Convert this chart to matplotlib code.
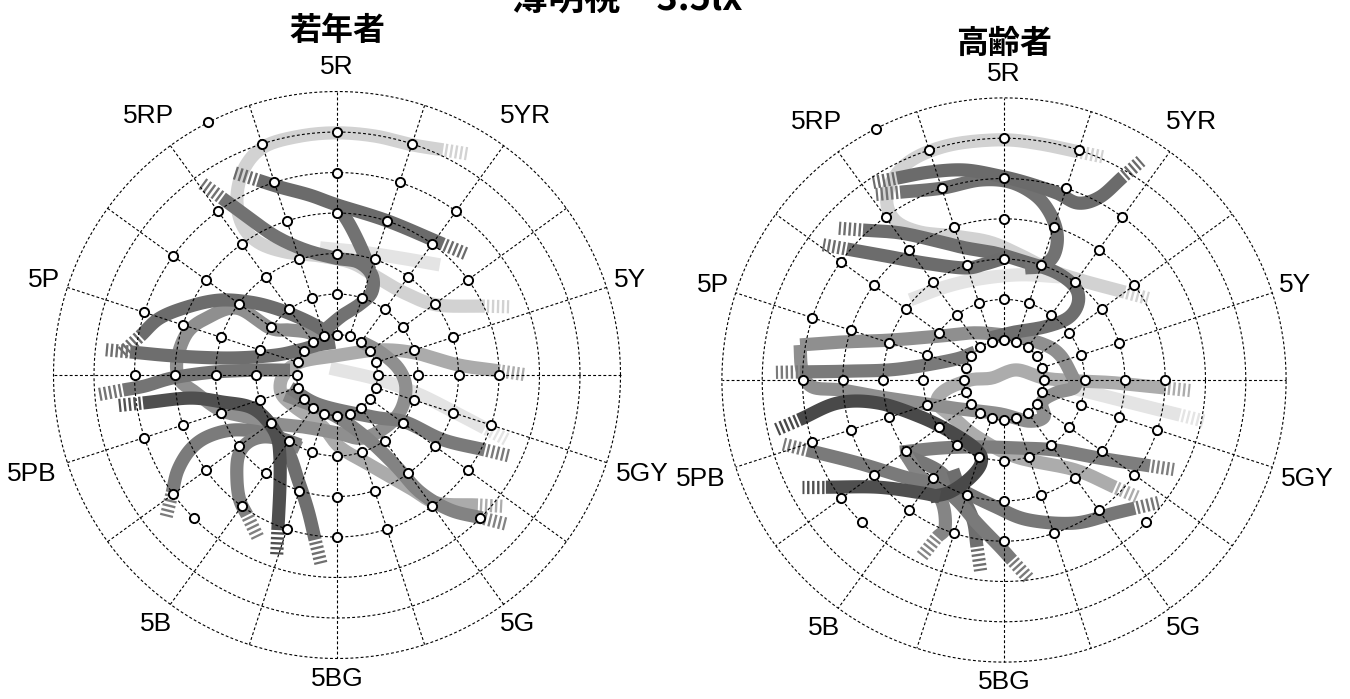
import numpy as np
import matplotlib
matplotlib.use("Agg")
import matplotlib.pyplot as plt

# ---------------------------------------------------------------
# Munsell hue / chroma plane: 20 hue steps (clockwise from 5R at top),
# chroma rings 1..7.  Band coordinates are in chroma units (x, y).
# ---------------------------------------------------------------
HUE_STEPS = 20
RINGS = 7
HUE_LABELS = ["5R", "5YR", "5Y", "5GY", "5G", "5BG", "5B", "5PB", "5P", "5RP"]
# highest chroma ring carrying a sample chip, per hue step (5R, 10R, 5YR, ...)
CHIP_MAX_RING = [6, 6, 5, 4, 3, 4, 4, 4, 4, 4, 4, 4, 4, 5, 5, 5, 5, 5, 5, 6]
# additional chips: (hue step, ring)
EXTRA_CHIPS = [(18.5, 7), (12.5, 5), (7.5, 5)]

TITLE = "薄明視　3.5lx"
PANEL_TITLES = ["若年者", "高齢者"]

# ---------------- young observers (若年者) ----------------
young_faint_north = [(-0.42, 3.14), (0.57, 3.04), (1.56, 2.89), (2.54, 2.72)]
young_faint_east = [(-0.17, 0.17), (1.06, -0.12), (2.05, -0.49), (3.04, -0.99), (3.65, -1.31)]
young_light_loop = [(2.62, 5.56), (1.88, 5.68), (0.94, 5.90), (0.00, 5.98), (-0.91, 5.90),
                    (-1.78, 5.65), (-2.27, 5.14), (-2.47, 4.42), (-2.35, 3.73), (-1.95, 3.28),
                    (-1.28, 3.04), (-0.42, 2.94), (0.37, 2.77), (1.01, 2.40), (1.68, 2.02),
                    (2.47, 1.73), (3.65, 1.70)]
young_center_loop = [(4.02, 0.10), (2.99, 0.25), (1.95, 0.54), (1.06, 0.62), (0.07, 0.49),
                     (-0.91, 0.32), (-1.33, -0.02), (-1.38, -0.44), (-1.04, -0.79), (-0.37, -1.26),
                     (0.07, -1.78), (0.81, -2.22), (1.80, -2.79), (2.47, -3.16), (3.48, -3.21)]
young_speckle = [(-0.17, 0.79), (-0.67, 1.04), (-1.16, 1.11), (-1.65, 1.16), (-2.47, 1.65),
                 (-3.21, 1.41), (-3.70, 1.04), (-3.95, 0.37), (-3.88, -0.12), (-3.51, -0.42),
                 (-2.89, -0.86), (-2.22, -1.04), (-1.65, -1.19), (-0.84, -1.28), (0.00, -1.43),
                 (0.62, -1.56), (1.21, -1.28), (1.58, -0.86), (1.70, -0.30), (1.51, 0.17),
                 (1.06, 0.57), (0.62, 0.81)]
young_se = [(-1.28, -0.49), (-0.17, -0.94), (0.64, -1.48), (1.43, -2.22), (2.05, -2.89),
            (2.79, -3.33), (3.58, -3.53)]
young_east = [(-1.16, -0.32), (-0.42, -0.74), (0.91, -1.04), (1.68, -1.16), (2.62, -1.60), (3.65, -1.85)]
young_arch_w = [(-4.07, -2.91), (-3.93, -2.35), (-3.63, -1.85), (-3.21, -1.53), (-2.59, -1.36),
                (-1.90, -1.41), (-1.28, -1.60), (-0.91, -1.73)]
young_arch_s = [(-2.22, -3.46), (-2.40, -3.09), (-2.47, -2.59), (-2.44, -2.02), (-2.22, -1.68),
                (-1.83, -1.53), (-1.33, -1.60), (-0.91, -1.80)]
young_south = [(-1.78, -1.06), (-1.23, -1.85), (-0.96, -2.59), (-0.72, -3.33), (-0.54, -4.07)]
young_arc = [(-4.86, 0.96), (-4.37, 1.41), (-3.63, 1.70), (-2.89, 1.85), (-2.15, 1.80),
             (-1.53, 1.65), (-0.91, 1.41), (-0.42, 1.16), (-0.12, 0.91)]
young_mid_w = [(-5.11, 0.57), (-4.00, 0.47), (-2.64, 0.42), (-1.53, 0.49), (-0.91, 0.62),
               (-0.47, 0.74), (-0.05, 0.81)]
young_low_w = [(-5.28, -0.37), (-4.74, -0.27), (-4.05, -0.07), (-3.06, 0.07), (-1.98, 0.12), (-1.16, 0.12)]
young_dark_b = [(-2.84, 4.37), (-2.27, 3.95), (-1.53, 3.43), (-0.79, 3.09), (-0.05, 2.89),
                (0.52, 2.79), (0.86, 2.47), (0.86, 2.05), (0.57, 1.75), (0.12, 1.46), (-0.30, 1.11)]
young_dark_branch = [(0.00, 4.20), (0.32, 3.70), (0.62, 3.09), (0.81, 2.59)]
young_dark_a = [(-1.95, 4.81), (-1.41, 4.64), (-0.67, 4.44), (0.00, 4.20), (1.26, 3.80), (2.62, 3.23)]
young_darkest = [(-4.79, -0.69), (-3.63, -0.57), (-2.81, -0.67), (-2.15, -0.79), (-1.73, -1.11),
                 (-1.48, -1.53), (-1.41, -2.02), (-1.41, -2.77), (-1.46, -3.83)]

# ---------------- elderly observers (高齢者) ----------------
old_faint = [(-2.33, 1.99), (-1.46, 2.31), (-0.60, 2.51), (0.40, 2.61), (1.39, 2.56)]
old_faint_east = [(1.39, -0.12), (2.38, -0.37), (3.37, -0.62), (4.37, -0.87)]
old_light_loop = [(1.86, 5.66), (0.89, 5.86), (0.00, 5.96), (-1.09, 5.88), (-1.89, 5.66),
                  (-2.46, 5.33), (-2.83, 4.84), (-2.90, 4.34), (-2.66, 3.92), (-2.08, 3.67),
                  (-1.22, 3.57), (-0.35, 3.42), (0.40, 3.10), (1.14, 2.73), (1.89, 2.48), (3.00, 2.18)]
old_center_loop = [(4.02, -0.20), (2.75, -0.07), (1.76, -0.02), (0.99, 0.05), (0.30, 0.25),
                   (-0.30, 0.05), (-0.84, 0.00), (-1.46, -0.25), (-1.66, -0.57), (-1.27, -0.92),
                   (-0.67, -1.41), (0.30, -1.91), (1.76, -2.23), (2.75, -2.66)]
old_speckle = [(-5.06, 0.87), (-4.07, 0.94), (-2.83, 0.99), (-1.59, 1.09), (-0.67, 1.17),
               (0.30, 1.07), (1.02, 0.87), (1.39, 0.62), (1.64, 0.20), (1.76, -0.17),
               (1.29, -0.32), (0.94, -0.55), (0.99, -0.92), (0.60, -1.02), (-0.10, -0.84),
               (-1.09, -0.72), (-2.08, -0.57), (-3.08, -0.42), (-4.02, -0.25), (-4.76, -0.17),
               (-5.01, 0.25), (-5.06, 0.87)]
old_west = [(-5.06, 0.20), (-3.82, 0.22), (-2.63, 0.27), (-1.27, 0.50), (-0.72, 0.69)]
old_east = [(-2.58, -1.79), (-1.59, -1.69), (-0.67, -1.66), (0.40, -1.69), (1.29, -1.74),
            (2.38, -1.94), (3.62, -2.13)]
old_southeast = [(-2.46, -1.86), (-1.66, -2.23), (-1.17, -2.66), (-0.20, -3.15), (0.60, -3.47),
                 (1.76, -3.55), (2.75, -3.30), (3.25, -3.18)]
old_south_a = [(-2.46, -1.81), (-2.06, -2.41), (-1.56, -2.98), (-1.46, -3.65), (-1.66, -3.90)]
old_south_b = [(-1.27, -2.23), (-1.07, -2.80), (-0.77, -3.47), (-0.67, -4.14)]
old_diag = [(-4.89, -1.74), (-3.62, -2.06), (-2.46, -2.41), (-1.66, -2.61), (-1.17, -2.98),
            (-0.67, -3.55), (-0.10, -4.14), (0.20, -4.47)]
old_upper_w = [(-3.50, 3.72), (-2.58, 3.65), (-1.66, 3.45), (-0.97, 3.28), (-0.22, 3.15),
               (0.52, 2.93), (1.27, 2.68), (1.76, 2.31), (1.84, 1.91), (1.59, 1.54),
               (1.02, 1.32), (0.27, 1.19), (-0.35, 1.04)]
old_lower_w = [(-3.90, 3.25), (-2.95, 3.08), (-1.96, 2.90), (-0.97, 2.78), (-0.47, 2.88), (0.02, 3.03)]
old_s_upper = [(-2.58, 4.66), (-1.54, 4.76), (-0.60, 4.96), (0.15, 4.91), (0.77, 4.59),
               (1.14, 4.14), (1.32, 3.60), (1.24, 3.10), (0.94, 2.83), (0.52, 2.78)]
old_curl = [(-2.66, 5.01), (-1.84, 5.16), (-0.97, 5.21), (-0.10, 5.06), (0.57, 4.89),
            (1.31, 4.64), (1.84, 4.39), (2.38, 4.54), (2.95, 5.04)]
old_darkest_a = [(-5.09, -0.99), (-4.12, -0.57), (-3.13, -0.57), (-2.06, -0.92), (-1.27, -1.32),
                 (-0.67, -1.74), (-0.57, -2.06), (-0.84, -2.43), (-1.34, -2.78), (-1.84, -2.90)]
old_darkest_b = [(-4.42, -2.66), (-3.13, -2.66), (-2.06, -2.80), (-1.59, -2.90)]

# drawing order, grey tone, hatched start, hatched end
YOUNG_BANDS = [
    (young_faint_north, "#e4e4e4", False, False),
    (young_faint_east, "#e4e4e4", False, True),
    (young_light_loop, "#d2d2d2", True, True),
    (young_center_loop, "#ababab", True, True),
    (young_speckle, "#8f8f8f", False, False),
    (young_se, "#838383", False, True),
    (young_east, "#7a7a7a", False, True),
    (young_arch_w, "#7b7b7b", True, False),
    (young_arch_s, "#808080", True, False),
    (young_south, "#6f6f6f", False, True),
    (young_arc, "#6c6c6c", True, False),
    (young_mid_w, "#6e6e6e", True, False),
    (young_low_w, "#747474", True, False),
    (young_dark_b, "#727272", True, False),
    (young_dark_branch, "#727272", False, False),
    (young_dark_a, "#6b6b6b", True, True),
    (young_darkest, "#4f4f4f", True, True),
]
OLD_BANDS = [
    (old_faint, "#e4e4e4", False, False),
    (old_faint_east, "#e4e4e4", False, True),
    (old_light_loop, "#d2d2d2", True, True),
    (old_center_loop, "#acacac", True, True),
    (old_speckle, "#8f8f8f", False, False),
    (old_west, "#7a7a7a", True, False),
    (old_east, "#7e7e7e", False, True),
    (old_southeast, "#777777", False, True),
    (old_south_a, "#858585", False, True),
    (old_south_b, "#6e6e6e", False, True),
    (old_diag, "#7a7a7a", True, True),
    (old_upper_w, "#6e6e6e", True, False),
    (old_lower_w, "#6c6c6c", True, False),
    (old_s_upper, "#727272", True, False),
    (old_curl, "#6b6b6b", True, True),
    (old_darkest_a, "#494949", True, False),
    (old_darkest_b, "#4f4f4f", True, False),
]

BAND_LW = 9.5
GRID_KW = dict(color="black", lw=0.8, dashes=(2.6, 2.0), zorder=5)


def hue_angle(step):
    return np.deg2rad(90.0 - 360.0 / HUE_STEPS * step)


def smooth(pts, n=14):
    """Catmull-Rom curve through the given points."""
    if len(pts) < 3:
        return pts[:, 0], pts[:, 1]
    P = np.vstack([2 * pts[0] - pts[1], pts, 2 * pts[-1] - pts[-2]])
    t = np.linspace(0, 1, n, endpoint=False)[:, None]
    segs = []
    for i in range(1, len(P) - 2):
        p0, p1, p2, p3 = P[i - 1], P[i], P[i + 1], P[i + 2]
        segs.append(0.5 * (2 * p1 + (-p0 + p2) * t + (2 * p0 - 5 * p1 + 4 * p2 - p3) * t ** 2
                           + (-p0 + 3 * p1 - 3 * p2 + p3) * t ** 3))
    segs.append(pts[-1][None])
    out = np.vstack(segs)
    return out[:, 0], out[:, 1]


def draw_band(ax, pts, color, head, tail, z):
    pts = np.asarray(pts, float)
    xs, ys = smooth(pts)
    ax.plot(xs, ys, color=color, lw=BAND_LW, solid_capstyle="butt",
            solid_joinstyle="round", zorder=z)
    for flag, a, b in ((head, pts[0], pts[1]), (tail, pts[-1], pts[-2])):
        if not flag:
            continue
        d = (a - b) / np.hypot(*(a - b))
        p0, p1 = a + 0.05 * d, a + 0.6 * d
        ax.plot([p0[0], p1[0]], [p0[1], p1[1]], color=color, lw=BAND_LW,
                dashes=(0.18, 0.2), dash_capstyle="butt", zorder=z)


def draw_panel(ax, bands, title, title_xy, bottom_r):
    ax.set_axis_off()
    # bands
    for k, (pts, color, head, tail) in enumerate(bands):
        draw_band(ax, pts, color, head, tail, 2 + k * 0.01)
    # chroma rings and hue spokes
    t = np.linspace(0, 2 * np.pi, 721)
    for r in range(1, RINGS + 1):
        ax.plot(r * np.cos(t), r * np.sin(t), **GRID_KW)
    for s in range(HUE_STEPS):
        a = hue_angle(s)
        ax.plot([np.cos(a), RINGS * np.cos(a)], [np.sin(a), RINGS * np.sin(a)], **GRID_KW)
    # sample chips
    cx, cy = [], []
    for s, m in enumerate(CHIP_MAX_RING):
        for r in range(1, m + 1):
            cx.append(r * np.cos(hue_angle(s)))
            cy.append(r * np.sin(hue_angle(s)))
    for s, r in EXTRA_CHIPS:
        cx.append(r * np.cos(hue_angle(s)))
        cy.append(r * np.sin(hue_angle(s)))
    ax.plot(cx, cy, ls="none", marker="o", ms=6.6, mfc="white", mec="black",
            mew=1.4, zorder=10)
    # hue labels
    for i, lab in enumerate(HUE_LABELS):
        a = hue_angle(2 * i)
        r = 7.6 if len(lab) == 2 else 7.92
        if lab == "5BG":
            r = bottom_r
        ax.text(r * np.cos(a), r * np.sin(a), lab, ha="center", va="center",
                fontsize=19, family=["Liberation Sans", "DejaVu Sans"])
    ax.figure.text(title_xy[0], title_xy[1], title, ha="center", va="center",
                   fontsize=23, fontweight="bold",
                   family=["Noto Sans CJK JP", "DejaVu Sans"])


fig = plt.figure(figsize=(13.5, 6.99), dpi=100)
fig.patch.set_facecolor("white")

ax_l = fig.add_axes([0.00363, 0.0058, 0.4920, 0.9212])
ax_l.set_xlim(-8.2, 8.2)
ax_l.set_ylim(-7.9, 8.0)
ax_r = fig.add_axes([0.49892, 0.00667, 0.48957, 0.91093])
ax_r.set_xlim(-8.2, 8.2)
ax_r.set_ylim(-7.8, 8.0)

draw_panel(ax_l, YOUNG_BANDS, PANEL_TITLES[0], (337 / 1350, 1 - 31 / 699), 7.5)
draw_panel(ax_r, OLD_BANDS, PANEL_TITLES[1], (1004 / 1350, 1 - 44 / 699), 7.5)

fig.text(627 / 1350, 1 - 11 / 699, TITLE, ha="center", va="baseline", fontsize=26,
         fontweight="bold", family=["Noto Sans CJK JP", "DejaVu Sans"])

fig.savefig("out.png", dpi=100, facecolor="white")
